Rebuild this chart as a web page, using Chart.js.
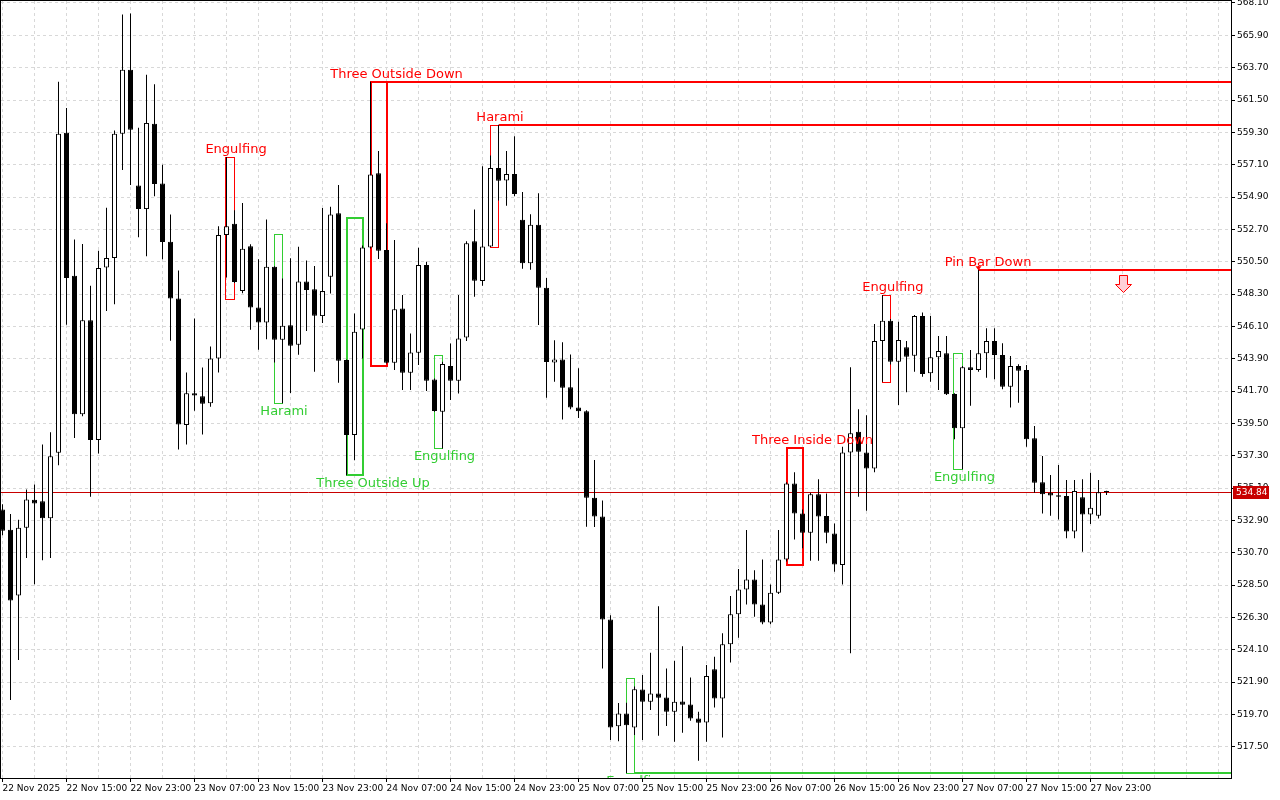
<!DOCTYPE html>
<html>
<head>
<meta charset="utf-8">
<title>H1 candles with patterns</title>
<script src="https://cdn.jsdelivr.net/npm/chart.js@4.4.1/dist/chart.umd.min.js"></script>
<style>
  html, body { margin: 0; padding: 0; background: #fff; }
  #wrap { width: 1280px; height: 800px; }
</style>
</head>
<body>
<div id="wrap"><canvas id="chart" width="1280" height="800"></canvas></div>
<script>
// hourly bars, 22 Nov 07:00 -> 28 Nov 01:00
const opens = [
  533.65, 532.26, 527.79, 532.41, 534.30, 534.20, 533.05, 537.51, 559.27, 549.55,
  540.13, 546.52, 538.37, 550.10, 550.75, 559.20, 563.56, 555.69, 554.08, 559.88,
  555.82, 551.86, 547.99, 539.40, 541.55, 541.35, 540.87, 543.92, 552.31, 553.08,
  548.51, 551.56, 547.38, 546.37, 550.16, 545.19, 546.18, 544.85, 549.15, 548.63,
  546.80, 549.48, 553.79, 543.81, 538.71, 545.89, 551.47, 556.51, 551.29, 543.63,
  547.32, 542.95, 544.31, 550.27, 542.49, 540.29, 543.40, 542.40, 545.35, 551.90,
  549.19, 551.53, 556.87, 556.02, 556.47, 553.36, 550.39, 553.02, 548.73, 543.65,
  543.85, 541.96, 540.59, 540.33, 534.45, 533.16, 526.16, 518.90, 519.76, 518.82,
  521.40, 520.57, 521.13, 520.86, 519.89, 520.59, 520.38, 519.43, 519.16, 522.77,
  520.79, 524.47, 526.51, 528.21, 528.89, 527.19, 525.96, 527.98, 530.25, 535.42,
  533.38, 532.07, 534.68, 533.20, 532.02, 529.87, 537.53, 538.94, 537.53, 536.44,
  545.11, 546.49, 543.70, 544.68, 544.11, 546.81, 542.91, 544.00, 544.27, 541.50,
  539.17, 543.32, 543.14, 544.27, 545.11, 544.16, 542.00, 543.41, 543.14, 538.49,
  535.49, 534.79, 534.61, 534.56, 532.14, 534.47, 533.31, 533.22, 534.90
];
const highs = [
  534.00, 533.34, 532.94, 535.00, 535.35, 538.07, 538.90, 562.75, 560.96, 552.01,
  551.70, 548.87, 551.24, 554.17, 559.42, 567.32, 567.38, 559.61, 563.22, 562.57,
  557.10, 553.71, 549.91, 542.97, 546.64, 543.31, 544.74, 552.92, 557.62, 554.00,
  554.50, 551.68, 550.66, 553.37, 550.20, 549.35, 550.73, 551.52, 550.59, 550.21,
  554.16, 554.24, 555.72, 543.85, 546.98, 551.60, 562.75, 558.03, 553.11, 551.97,
  548.23, 545.62, 551.45, 550.50, 542.55, 543.69, 544.94, 548.23, 551.90, 554.06,
  557.00, 557.73, 559.82, 558.04, 559.04, 555.25, 553.73, 555.16, 549.39, 545.16,
  545.02, 544.19, 543.25, 540.39, 537.02, 534.25, 526.45, 520.48, 520.50, 521.60,
  522.38, 523.90, 527.07, 522.83, 523.36, 524.35, 522.22, 519.89, 523.06, 523.63,
  525.22, 527.76, 529.59, 532.25, 529.52, 530.25, 528.55, 532.25, 535.50, 536.17,
  533.65, 534.79, 535.70, 534.74, 532.70, 537.92, 543.32, 540.46, 540.05, 546.27,
  548.24, 546.60, 546.42, 545.11, 546.88, 547.04, 546.81, 545.45, 545.45, 541.55,
  543.40, 544.50, 550.20, 545.97, 545.97, 544.95, 544.09, 543.52, 543.48, 539.33,
  537.28, 535.99, 536.67, 535.65, 535.65, 535.70, 536.15, 535.65, 534.92
];
const lows = [
  531.90, 520.69, 523.41, 530.35, 528.56, 530.19, 530.35, 536.65, 546.21, 538.50,
  539.98, 534.52, 537.45, 547.14, 547.60, 556.74, 555.72, 552.17, 550.87, 554.95,
  550.66, 545.12, 537.73, 538.07, 540.37, 538.75, 540.64, 542.97, 549.42, 549.05,
  548.35, 545.87, 544.51, 545.23, 543.65, 540.87, 541.57, 544.17, 545.78, 543.02,
  546.33, 548.34, 542.27, 535.98, 537.00, 543.92, 551.40, 550.68, 543.58, 543.13,
  541.77, 541.77, 543.47, 541.70, 540.30, 537.80, 541.09, 541.54, 545.10, 548.12,
  548.87, 551.50, 554.67, 554.30, 554.96, 550.02, 549.96, 546.19, 541.25, 542.33,
  539.76, 540.47, 539.87, 532.47, 532.45, 522.82, 517.96, 517.88, 515.72, 518.30,
  517.96, 520.00, 518.25, 518.91, 517.84, 518.46, 519.27, 516.55, 517.84, 520.18,
  518.14, 523.24, 524.92, 527.19, 526.35, 525.83, 525.83, 527.90, 530.10, 531.61,
  531.00, 530.16, 530.16, 531.34, 529.41, 528.55, 523.86, 534.52, 533.56, 536.17,
  542.34, 543.50, 540.75, 541.62, 543.02, 542.68, 542.34, 541.77, 541.43, 538.42,
  536.38, 540.71, 543.02, 542.61, 542.50, 541.82, 540.59, 540.91, 537.92, 534.79,
  533.38, 533.22, 532.97, 531.68, 531.68, 530.77, 532.66, 533.04, 534.63
];
const closes = [
  532.20, 527.45, 532.41, 534.33, 534.05, 533.05, 537.26, 559.20, 549.39, 540.13,
  546.52, 538.37, 550.07, 550.75, 559.20, 563.56, 559.48, 554.08, 559.94, 555.78,
  551.84, 547.99, 539.42, 541.55, 541.40, 540.83, 543.92, 552.31, 552.92, 549.12,
  551.38, 547.38, 546.37, 550.16, 545.19, 546.14, 544.78, 549.15, 548.58, 546.82,
  548.50, 553.72, 543.76, 538.71, 545.74, 551.47, 556.44, 551.25, 543.63, 547.26,
  542.95, 544.33, 550.27, 542.40, 540.34, 543.54, 542.40, 545.28, 551.75, 549.20,
  551.53, 556.87, 556.00, 556.47, 555.10, 550.39, 553.02, 548.73, 543.67, 543.85,
  541.93, 540.59, 540.33, 534.45, 533.16, 526.16, 518.82, 519.76, 518.96, 521.41,
  520.57, 521.13, 520.84, 519.89, 520.57, 520.36, 519.43, 519.14, 522.31, 520.79,
  524.47, 526.51, 528.21, 528.89, 527.19, 525.96, 527.98, 530.25, 535.42, 533.38,
  532.07, 534.68, 533.16, 532.07, 529.91, 537.53, 538.83, 537.58, 536.44, 545.11,
  546.49, 543.70, 545.18, 544.04, 546.81, 542.86, 544.00, 544.43, 541.48, 539.17,
  543.32, 543.14, 544.27, 545.11, 544.16, 542.00, 543.41, 543.09, 538.42, 535.47,
  534.68, 534.59, 534.52, 532.14, 534.90, 533.31, 533.77, 534.81, 534.84
];

// time labels, one every 8 bars
const xLabels = [
  "22 Nov 2025", "22 Nov 15:00", "22 Nov 23:00", "23 Nov 07:00", "23 Nov 15:00",
  "23 Nov 23:00", "24 Nov 07:00", "24 Nov 15:00", "24 Nov 23:00", "25 Nov 07:00",
  "25 Nov 15:00", "25 Nov 23:00", "26 Nov 07:00", "26 Nov 15:00", "26 Nov 23:00",
  "27 Nov 07:00", "27 Nov 15:00", "27 Nov 23:00"
];
const yTicks = [
  517.50, 519.70, 521.90, 524.10, 526.30, 528.50, 530.70, 532.90, 535.10, 537.30,
  539.50, 541.70, 543.90, 546.10, 548.30, 550.50, 552.70, 554.90, 557.10, 559.30,
  561.50, 563.70, 565.90, 568.10
];
const lastPrice = 534.84;

// pattern boxes (first bar, last bar, top price, bottom price, bullish?)
const boxFrom   = [28, 34, 43, 46, 54, 61, 78, 98, 110, 119];
const boxTo     = [29, 35, 45, 48, 55, 62, 79, 100, 111, 120];
const boxTop    = [557.62, 552.40, 553.49, 562.75, 544.15, 559.82, 522.18, 537.80, 548.24, 544.27];
const boxBottom = [547.95, 540.87, 535.98, 543.40, 537.80, 551.53, 515.72, 529.86, 542.34, 536.38];
const boxBull   = [false, true, true, false, true, false, true, false, false, true];

// levels that run on to the right edge
const levelFrom  = [48, 62, 122, 79];
const levelPrice = [562.73, 559.80, 549.97, 515.72];
const levelBull  = [false, false, false, true];

// pattern names and where they sit (bar index, price)
const labelText = ["Engulfing", "Harami", "Three Outside Up", "Three Outside Down", "Engulfing",
  "Harami", "Engulfing", "Three Inside Down", "Engulfing", "Engulfing", "Pin Bar Down"];
const labelBull = [false, true, true, false, true, false, true, false, false, true, false];
const labelX = [29.19, 35.19, 46.31, 49.25, 55.25, 62.19, 79.31, 101.25, 111.31, 120.25, 123.19];
const labelY = [558.10, 540.28, 535.38, 563.20, 537.22, 560.28, 515.11, 538.30, 548.71, 535.79, 550.41];

const pinBar = 122;
const arrowBar = 140, arrowPrice = 549.60;

const RED = "#ff0000";
const GREEN = "#32cd32";

const overlay = {
  id: "overlay",
  beforeDatasetsDraw(chart) {
    const { ctx, chartArea: a, scales: { x, y } } = chart;
    ctx.save();
    ctx.beginPath();
    ctx.rect(a.left, a.top, a.right - a.left, a.bottom - a.top);
    ctx.clip();

    // boxes
    for (let k = 0; k < boxFrom.length; k++) {
      const w = (boxTo[k] - boxFrom[k]) >= 2 ? 2 : 1;
      const x0 = Math.round(x.getPixelForValue(boxFrom[k]));
      const x1 = Math.round(x.getPixelForValue(boxTo[k]));
      const y0 = Math.round(y.getPixelForValue(boxTop[k]));
      const y1 = Math.round(y.getPixelForValue(boxBottom[k]));
      ctx.strokeStyle = boxBull[k] ? GREEN : RED;
      ctx.lineWidth = w;
      const o = w === 1 ? 0.5 : 0;
      ctx.strokeRect(x0 - o, y0 + o, x1 - x0, y1 - y0);
    }
    // levels
    for (let k = 0; k < levelFrom.length; k++) {
      const x0 = Math.round(x.getPixelForValue(levelFrom[k]));
      const yy = Math.round(y.getPixelForValue(levelPrice[k]));
      ctx.strokeStyle = levelBull[k] ? GREEN : RED;
      ctx.lineWidth = 2;
      ctx.beginPath();
      ctx.moveTo(x0, yy);
      ctx.lineTo(a.right, yy);
      ctx.stroke();
    }
    // last price line
    const py = Math.round(y.getPixelForValue(lastPrice)) + 0.5;
    ctx.strokeStyle = "#c80000";
    ctx.lineWidth = 1;
    ctx.beginPath();
    ctx.moveTo(a.left, py);
    ctx.lineTo(a.right, py);
    ctx.stroke();
    ctx.restore();
  },
  afterDatasetsDraw(chart) {
    const { ctx, chartArea: a, scales: { x, y } } = chart;
    ctx.save();
    ctx.beginPath();
    ctx.rect(a.left, a.top, a.right - a.left, a.bottom - a.top);
    ctx.clip();

    ctx.font = "13px 'DejaVu Sans'";
    ctx.textAlign = "center";
    ctx.textBaseline = "middle";
    for (let k = 0; k < labelText.length; k++) {
      ctx.fillStyle = labelBull[k] ? GREEN : RED;
      ctx.fillText(labelText[k], x.getPixelForValue(labelX[k]), y.getPixelForValue(labelY[k]));
    }

    // pin bar marker on top of the wick
    const mx = x.getPixelForValue(pinBar), my = y.getPixelForValue(highs[pinBar]);
    ctx.fillStyle = RED;
    ctx.beginPath();
    ctx.moveTo(mx - 3, my);
    ctx.lineTo(mx + 3, my);
    ctx.lineTo(mx, my + 4);
    ctx.closePath();
    ctx.fill();

    // hollow down arrow
    const ax = Math.round(x.getPixelForValue(arrowBar)) + 0.5;
    const ay = Math.round(y.getPixelForValue(arrowPrice)) + 0.5;
    ctx.beginPath();
    ctx.moveTo(ax - 4, ay);
    ctx.lineTo(ax + 4, ay);
    ctx.lineTo(ax + 4, ay + 9);
    ctx.lineTo(ax + 8, ay + 9);
    ctx.lineTo(ax, ay + 17);
    ctx.lineTo(ax - 8, ay + 9);
    ctx.lineTo(ax - 4, ay + 9);
    ctx.closePath();
    ctx.fillStyle = "#ffd0d8";
    ctx.fill();
    ctx.strokeStyle = RED;
    ctx.lineWidth = 1;
    ctx.stroke();
    ctx.restore();
  },
  afterDraw(chart) {
    const { ctx, chartArea: a, scales: { y } } = chart;
    ctx.save();
    // frame
    ctx.strokeStyle = "#000";
    ctx.lineWidth = 1;
    ctx.strokeRect(a.left - 0.5, a.top - 0.5, a.right - a.left + 1, a.bottom - a.top + 1);
    // last price tag
    const py = Math.round(y.getPixelForValue(lastPrice));
    ctx.fillStyle = "#c80000";
    ctx.fillRect(a.right + 2, py - 6, 36, 13);
    ctx.fillStyle = "#fff";
    ctx.font = "9px 'DejaVu Sans'";
    ctx.textAlign = "left";
    ctx.textBaseline = "middle";
    ctx.fillText(lastPrice.toFixed(2), a.right + 5, py + 0.5);
    ctx.restore();
  }
};

const bodyColor = (c) => closes[c.dataIndex] >= opens[c.dataIndex] ? "#ffffff" : "#000000";
const hasLabel = (v) => v % 8 === 0 && xLabels[v / 8] !== undefined;

const chart = new Chart(document.getElementById("chart"), {
  type: "bar",
  data: {
    datasets: [
      {
        label: "body",
        data: opens.map((o, i) => ({ x: i, y: [o, closes[i]] })),
        backgroundColor: bodyColor,
        borderColor: "#000",
        borderWidth: 1,
        borderSkipped: false,
        barThickness: 5,
        grouped: false,
        minBarLength: 1,
        inflateAmount: 0,
        order: 0
      },
      {
        label: "wick",
        data: lows.map((l, i) => ({ x: i, y: [l, highs[i]] })),
        backgroundColor: "#000",
        borderWidth: 0,
        barThickness: 1,
        grouped: false,
        inflateAmount: 0,
        order: 1
      }
    ]
  },
  options: {
    responsive: false,
    animation: false,
    devicePixelRatio: 1,
    layout: { padding: { left: 1, top: 1, right: 0, bottom: 0 } },
    plugins: { legend: { display: false }, tooltip: { enabled: false } },
    scales: {
      x: {
        type: "linear",
        min: -0.1875,
        max: 153.5625,
        offset: false,
        grid: {
          offset: false,
          color: "#d8d8d8",
          tickLength: 4,
          tickColor: (c) => (c.tick && hasLabel(c.tick.value)) ? "#000" : "rgba(0,0,0,0)"
        },
        border: { display: false, dash: [3, 3] },
        afterBuildTicks: (s) => {
          const t = [];
          for (let v = 0; v <= 152; v += 4) t.push({ value: v });
          s.ticks = t;
        },
        afterFit: (s) => {
          s.height = 22;
          s.paddingLeft = 0;
          s.paddingRight = 0;
        },
        ticks: {
          autoSkip: false,
          maxRotation: 0,
          minRotation: 0,
          align: "start",
          padding: 1,
          color: "#000",
          font: { family: "'DejaVu Sans'", size: 9 },
          callback: (v) => hasLabel(v) ? xLabels[v / 8] : ""
        }
      },
      y: {
        position: "right",
        min: 515.379,
        max: 568.236,
        grid: { color: "#d8d8d8", tickLength: 4, tickColor: "#000" },
        border: { display: false, dash: [3, 3] },
        afterBuildTicks: (s) => { s.ticks = yTicks.map(v => ({ value: v })); },
        afterFit: (s) => {
          s.width = 49;
          s.paddingTop = 0;
          s.paddingBottom = 0;
        },
        ticks: {
          padding: 2,
          color: "#000",
          font: { family: "'DejaVu Sans'", size: 9 },
          callback: (v) => Number(v).toFixed(2)
        }
      }
    }
  },
  plugins: [overlay]
});
</script>
</body>
</html>
